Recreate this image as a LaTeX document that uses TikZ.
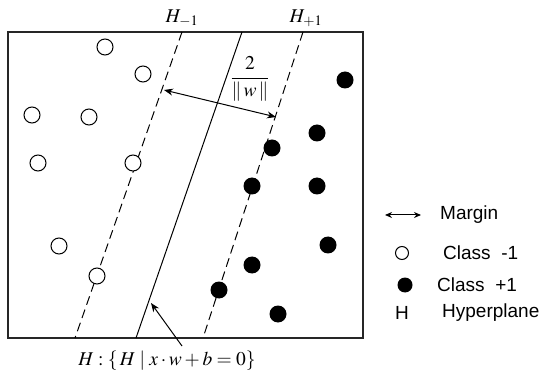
\documentclass[tikz,border=0pt]{standalone}
\usepackage{mathptmx}
\usepackage{fontspec}
\setsansfont{Liberation Sans}
\usetikzlibrary{arrows.meta}
\begin{document}
\begin{tikzpicture}[x=1pt,y=-1pt,
  frame/.style={draw=black!85, line width=1.3pt},
  plane/.style={line width=1pt},
  marginline/.style={plane, dash pattern=on 9pt off 5pt},
  negdot/.style={circle, draw, fill=white, line width=1pt, minimum size=16pt, inner sep=0pt},
  posdot/.style={circle, fill, minimum size=17pt, inner sep=0pt},
  arr/.style={line width=1pt, -{Stealth[length=9pt,width=7pt]}},
  dblarr/.style={line width=1pt, {Stealth[length=9pt,width=7pt]}-{Stealth[length=9pt,width=7pt]}},
  legarr/.style={line width=1pt, {Stealth[length=7pt,width=6pt]}-{Stealth[length=7pt,width=6pt]}},
  leg/.style={font=\sffamily\fontsize{19}{22}\selectfont, anchor=west, inner sep=0pt},
  mlab/.style={font=\fontsize{19.5}{22}\selectfont, inner sep=1pt}]
\useasboundingbox (0,0) rectangle (551,379);
\draw[frame] (8,32) rectangle (363,338);
% hyperplanes
\coordinate (hm-top) at (182,32);
\coordinate (hm-bot) at (75,338);
\coordinate (h-top) at (242,32);
\coordinate (h-bot) at (136,338);
\coordinate (hp-top) at (303,32);
\coordinate (hp-bot) at (203,338);
\draw[marginline] (hm-top) -- (hm-bot);
\draw[plane] (h-top) -- (h-bot);
\draw[marginline] (hp-top) -- (hp-bot);
\node[mlab] (lhm) at (182,18) {$H_{-1}$};
\node[mlab] (lhp) at (306,18) {$H_{+1}$};
% margin
\coordinate (mA) at (164,90);
\coordinate (mB) at (276,117);
\draw[dblarr] (mA) -- (mB);
\node[mlab] (frac) at (250,79) {$\displaystyle\frac{2}{\|\,w\,\|}$};
% class -1
\node[negdot] (n1) at (105,47) {};
\node[negdot] (n2) at (143,74) {};
\node[negdot] (n3) at (32,115) {};
\node[negdot] (n4) at (89,117) {};
\node[negdot] (n5) at (38,163) {};
\node[negdot] (n6) at (133,163) {};
\node[negdot] (n7) at (59,246) {};
\node[negdot] (n8) at (97,276) {};
% class +1
\node[posdot] (p1) at (345,80) {};
\node[posdot] (p2) at (317,133) {};
\node[posdot] (p3) at (272,148) {};
\node[posdot] (p4) at (252,186) {};
\node[posdot] (p5) at (317,186) {};
\node[posdot] (p6) at (328,245) {};
\node[posdot] (p7) at (252,265) {};
\node[posdot] (p8) at (219,290) {};
\node[posdot] (p9) at (278,314) {};
% hyperplane label
\node[mlab] (hlab) at (167,361) {$H:\{\,H\mid x\cdot w+b=0\}$};
\coordinate (hpt) at (151,303);
\coordinate (hs) at (182,346);
\draw[arr] (hs) -- (hpt);
% legend
\coordinate (la) at (385,215);
\coordinate (lb) at (421,215);
\draw[legarr] (la) -- (lb);
\node[leg] (tm) at (440,215) {Margin};
\node[negdot, minimum size=13pt] (ln) at (402,253) {};
\node[leg] (tn) at (443,253) {Class~ -1};
\node[posdot, minimum size=15pt] (lp) at (405,285) {};
\node[leg] (tp) at (437,285) {Class~ +1};
\node[leg, anchor=center] (th) at (402,313) {H};
\node[leg] (tt) at (442,313) {Hyperplane};
\end{tikzpicture}
\end{document}
